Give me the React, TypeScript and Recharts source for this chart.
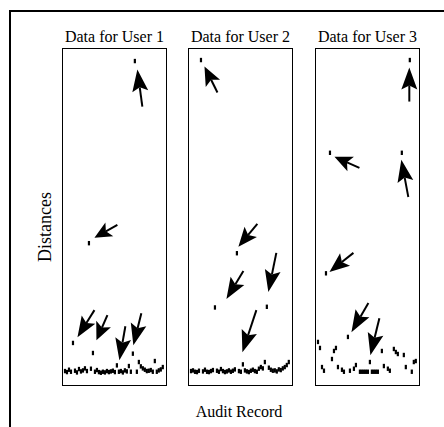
import React from "react";
import { ScatterChart, Scatter, XAxis, YAxis, ReferenceLine } from "recharts";

// titles above each panel
const panelTitles = ["Data for User 1", "Data for User 2", "Data for User 3"];

// distance per audit record (records 1..50); null = nothing plotted
const user1Distances = [
  3.8, 3.5, 4.2, 3.6, 12.2, 3.9, 3.4, 4.4, 3.7, 4.0,
  4.6, 3.8, 42, 4.5, 9.2, 3.6, 4.1, 3.5, 3.3, 3.6,
  3.4, 3.8, 3.5, 3.7, 3.9, 3.5, 5.5, 3.6, 3.8, 3.4,
  4.0, 3.7, 5.3, 3.6, 9.0, 96.4, 3.6, 6.5, 5.2, 4.6,
  4.2, 3.8, 3.9, 4.1, 3.6, 6.8, 3.6, 4.0, 4.3, 5.0,
];
const user2Distances = [
  3.8, 4.0, 3.6, 3.5, 3.9, 96.7, 3.7, 4.2, 3.6, 3.5,
  3.8, 4.1, 22.8, 3.9, 3.6, 4.4, 3.8, 3.5, 3.7, 4.0,
  3.6, 3.9, 4.3, 39, 3.8, 3.6, 5.8, 4.0, 3.7, 3.5,
  3.9, 4.2, 3.8, 3.6, 4.5, 5.0, 4.6, 6.5, 23, 4.8,
  4.2, 3.9, 4.0, 3.7, 4.3, 4.1, 4.6, 5.0, 5.6, 6.5,
];
const user3Distances = [
  12.5, 10.7, 5.0, 3.9, 33, null, 69, 7.4, 9.8, 10.7,
  5.0, null, 4.2, 3.6, null, 14, 3.9, null, 4.5, 5.6,
  null, 3.6, 3.6, 3.6, 3.6, 3.6, 6.5, 3.6, 3.6, 3.6,
  3.6, null, 9.8, 5.3, null, 4.5, 3.9, null, 10.4, 9.5,
  8.9, null, 69, 8.6, 5.0, null, 96.7, 3.6, 6.5, 6.8,
];

// arrows: [tail record, tail distance, tip record, tip distance]
const user1Arrows = [
  [39.75, 82.8, 37.25, 93.9],
  [27.25, 47.5, 15.75, 43.6],
  [15.75, 22.0, 7.25, 13.9],
  [22.25, 20.5, 16.75, 13.0],
  [31.25, 17.2, 28.25, 7.0],
  [39.25, 21.1, 35.25, 11.5],
];
const user2Arrows = [
  [14.25, 87.0, 7.75, 94.8],
  [34.25, 47.8, 24.75, 40.9],
  [27.25, 33.7, 18.75, 25.3],
  [43.75, 39.1, 39.75, 27.4],
  [33.75, 22.0, 26.75, 9.4],
];
const user3Arrows = [
  [46.75, 84.3, 46.75, 94.5],
  [21.75, 64.5, 9.25, 67.8],
  [46.25, 55.8, 42.75, 66.9],
  [18.75, 39.1, 6.75, 33.4],
  [26.25, 24.1, 17.75, 15.4],
  [31.75, 19.6, 27.25, 8.5],
];

// small tick marks on the left edge of each panel
const user1Ticks = [3, 23, 43, 63, 83];
const user2Ticks = [3, 20, 37, 54, 71, 88];
const user3Ticks = [3, 18, 34, 50, 65, 81, 96];

const panels = [
  { title: panelTitles[0], distances: user1Distances, arrows: user1Arrows, ticks: user1Ticks, left: 62 },
  { title: panelTitles[1], distances: user2Distances, arrows: user2Arrows, ticks: user2Ticks, left: 188 },
  { title: panelTitles[2], distances: user3Distances, arrows: user3Arrows, ticks: user3Ticks, left: 315 },
];

const INK = "#000";
const FONT = "Liberation Serif, DejaVu Serif, serif";
const PANEL_TOP = 48;
const PANEL_W = 105;
const PANEL_H = 338;
const BORDER = 1.6;

function Mark(props: any) {
  const { cx, cy } = props;
  if (cx == null || cy == null) return null;
  return <rect x={cx - 1.1} y={cy - 2.2} width={2.2} height={4.4} fill={INK} />;
}

function Arrow(props: any) {
  const { x1, y1, x2, y2 } = props;
  const dx = x2 - x1;
  const dy = y2 - y1;
  const len = Math.hypot(dx, dy) || 1;
  const ux = dx / len;
  const uy = dy / len;
  const head = Math.min(22, len * 0.65);
  const half = 8;
  const notch = 4;
  const bx = x2 - ux * head;
  const by = y2 - uy * head;
  const nx = x2 - ux * (head - notch);
  const ny = y2 - uy * (head - notch);
  const pts = [
    [x2, y2],
    [bx - uy * half, by + ux * half],
    [nx, ny],
    [bx + uy * half, by - ux * half],
  ]
    .map((p) => p.join(","))
    .join(" ");
  return (
    <g>
      <line x1={x1} y1={y1} x2={nx} y2={ny} stroke={INK} strokeWidth={2} />
      <polygon points={pts} fill={INK} />
    </g>
  );
}

function Panel({ p }: { p: (typeof panels)[number] }) {
  const data = p.distances
    .map((d, i) => ({ record: i + 1, distance: d }))
    .filter((r) => r.distance != null);
  return (
    <div
      style={{
        position: "absolute",
        left: p.left,
        top: PANEL_TOP,
        width: PANEL_W,
        height: PANEL_H,
        border: `${BORDER}px solid ${INK}`,
        boxSizing: "border-box",
      }}
    >
      <ScatterChart
        width={PANEL_W - 2 * BORDER}
        height={PANEL_H - 2 * BORDER}
        margin={{ top: 0, right: 0, bottom: 0, left: 0 }}
      >
        <XAxis type="number" dataKey="record" domain={[0, 51]} hide />
        <YAxis
          type="number"
          dataKey="distance"
          domain={[0, 100]}
          ticks={p.ticks}
          mirror
          axisLine={false}
          tick={false}
          tickSize={2}
          tickLine={{ stroke: "#444", strokeWidth: 1 }}
        />
        {p.arrows.map((a, i) => (
          <ReferenceLine
            key={i}
            segment={[
              { x: a[0], y: a[1] },
              { x: a[2], y: a[3] },
            ]}
            shape={Arrow}
          />
        ))}
        <Scatter data={data} isAnimationActive={false} shape={Mark} />
      </ScatterChart>
    </div>
  );
}

export default function App() {
  const textStyle = { fontFamily: FONT };
  return (
    <div
      style={{
        position: "absolute",
        left: 0,
        top: 0,
        width: 444,
        height: 427,
        background: "#fff",
        overflow: "hidden",
        fontFamily: FONT,
      }}
    >
      <svg width={444} height={427} style={{ position: "absolute", left: 0, top: 0 }}>
        <line x1={10} y1={11} x2={444} y2={11} stroke={INK} strokeWidth={2} />
        <line x1={10} y1={10} x2={10} y2={427} stroke={INK} strokeWidth={2} />
        {panels.map((p) => (
          <text
            key={p.title}
            x={p.left + PANEL_W / 2}
            y={42}
            textAnchor="middle"
            fontSize={16}
            style={textStyle}
            fill={INK}
          >
            {p.title}
          </text>
        ))}
        <text
          x={51}
          y={227}
          transform="rotate(-90 51 227)"
          textAnchor="middle"
          fontSize={18}
          style={textStyle}
          fill={INK}
        >
          Distances
        </text>
        <text x={239} y={417} textAnchor="middle" fontSize={16} style={textStyle} fill={INK}>
          Audit Record
        </text>
      </svg>
      {panels.map((p) => (
        <Panel key={p.title} p={p} />
      ))}
    </div>
  );
}
